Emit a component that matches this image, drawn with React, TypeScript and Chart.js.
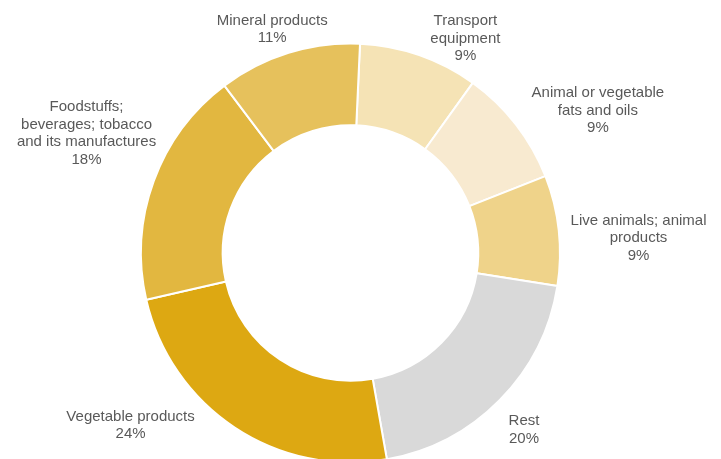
import React, { useEffect, useRef } from "react";
import { Chart, registerables } from "chart.js";

Chart.register(...registerables);

const categories: string[] = [
  "Transport\nequipment",
  "Animal or vegetable\nfats and oils",
  "Live animals; animal\nproducts",
  "Rest",
  "Vegetable products",
  "Foodstuffs;\nbeverages; tobacco\nand its manufactures",
  "Mineral products",
];
const shares: number[] = [9.2, 9.1, 8.5, 19.7, 24.2, 18.3, 11.0];
const percentLabels: string[] = ["9%", "9%", "9%", "20%", "24%", "18%", "11%"];
const colors: string[] = ["#F5E3B5", "#F8EAD0", "#EFD38A", "#D9D9D9", "#DDA812", "#E2B740", "#E6C15C"];
// label nudges (layout only)
const labelNudges: [number, number][] = [
  [33, 21.4],
  [50.5, 11],
  [40, 12.3],
  [-4.3, 1.8],
  [-82, -35.7],
  [-29.6, -34],
  [-4.5, 14.5],
];

const labelPlugin = {
  id: "outerLabels",
  afterDatasetsDraw(chart: any) {
    const ctx = chart.ctx;
    const meta = chart.getDatasetMeta(0);
    ctx.save();
    ctx.font = '15px "Liberation Sans", Arial, sans-serif';
    ctx.fillStyle = "#595959";
    ctx.textAlign = "center";
    ctx.textBaseline = "middle";
    const lh = 17.5;
    meta.data.forEach((arc: any, i: number) => {
      const p = arc.getProps(["x", "y", "startAngle", "endAngle", "outerRadius"], true);
      const mid = (p.startAngle + p.endAngle) / 2;
      const r = p.outerRadius + 40;
      const cx = p.x + Math.cos(mid) * r + labelNudges[i][0];
      const cy = p.y + Math.sin(mid) * r + labelNudges[i][1];
      const lines = categories[i].split("\n").concat([percentLabels[i]]);
      const top = cy - ((lines.length - 1) * lh) / 2;
      lines.forEach((ln, j) => ctx.fillText(ln, cx, top + j * lh));
    });
    ctx.restore();
  },
};

export default function App() {
  const ref = useRef<HTMLCanvasElement | null>(null);
  useEffect(() => {
    if (!ref.current) return;
    const chart = new Chart(ref.current, {
      type: "doughnut",
      data: {
        labels: categories,
        datasets: [
          {
            data: shares,
            backgroundColor: colors,
            borderColor: "#FFFFFF",
            borderWidth: 2,
            hoverOffset: 0,
          },
        ],
      },
      options: {
        responsive: false,
        animation: false,
        rotation: 2.6,
        cutout: "61%",
        layout: { padding: { left: 0, right: 20, top: 42.5, bottom: 42.5 } },
        plugins: { legend: { display: false }, tooltip: { enabled: false } },
      },
      plugins: [labelPlugin],
    });
    return () => chart.destroy();
  }, []);
  return (
    <div style={{ position: "fixed", left: 0, top: 0, width: 721, height: 459, overflow: "hidden", background: "#fff" }}>
      <canvas ref={ref} width={721} height={506} style={{ width: 721, height: 506, display: "block" }} />
    </div>
  );
}
